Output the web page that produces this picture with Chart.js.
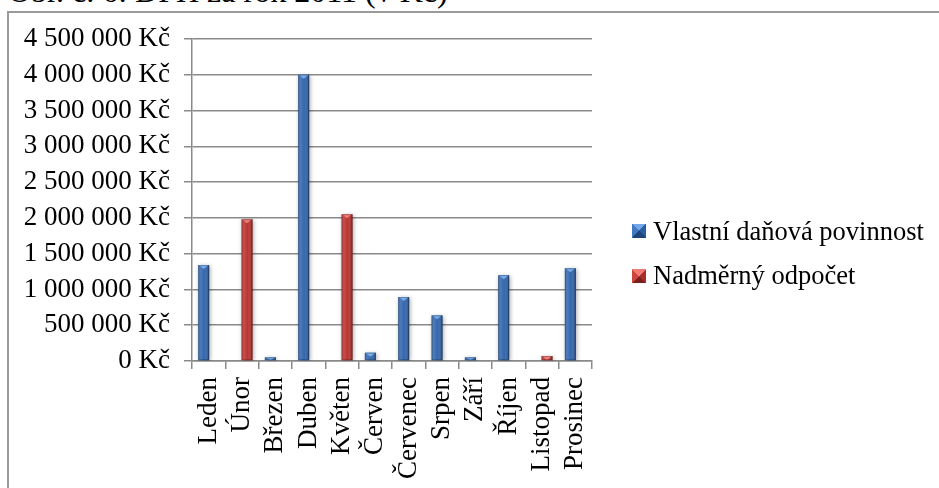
<!DOCTYPE html>
<html lang="cs">
<head>
<meta charset="utf-8">
<title>DPH za rok 2011</title>
<script src="https://cdn.jsdelivr.net/npm/chart.js@4.4.1/dist/chart.umd.min.js"></script>
<style>
  html, body { margin: 0; padding: 0; background: #fff; overflow: hidden; }
  #wrap { position: relative; width: 939px; height: 488px; overflow: hidden;
          font-family: "Liberation Serif", "Times New Roman", serif; color: #000; }
  #title { position: absolute; left: 8px; top: -25px; font-size: 32px; line-height: 32px; white-space: nowrap; }
  #frame { position: absolute; left: 7px; top: 11px; width: 1200px; height: 1000px;
           border: 2px solid #9a9a9a; box-sizing: border-box; }
  #chart { position: absolute; left: 0; top: 0; }
  .lg-box { position: absolute; width: 14px; height: 14px; }
  .lg-text { position: absolute; font-size: 26.5px; line-height: 26px; white-space: nowrap; }
</style>
</head>
<body>
<div id="wrap">
  <div id="title">Obr. č. 6: DPH za rok 2011 (v Kč)</div>
  <div id="frame"></div>
  <canvas id="chart" width="939" height="488"></canvas>
  <div id="legend"></div>
</div>
<script>
// Měsíce roku 2011
const months = ['Leden', 'Únor', 'Březen', 'Duben', 'Květen', 'Červen',
                'Červenec', 'Srpen', 'Září', 'Říjen', 'Listopad', 'Prosinec'];

// Vlastní daňová povinnost (Kč)
const vlastniPovinnost = [1340000, null, 52000, 4000000, null, 116000,
                          894000, 638000, 52000, 1200000, null, 1295000];

// Nadměrný odpočet (Kč)
const nadmernyOdpocet = [null, 1980000, null, null, 2050000, null,
                         null, null, null, null, 70000, null];

// Hodnoty na svislé ose
const yTickValues = [0, 500000, 1000000, 1500000, 2000000, 2500000,
                     3000000, 3500000, 4000000, 4500000];

const seriesNames = ['Vlastní daňová povinnost', 'Nadměrný odpočet'];

// barvy: základ, světlá horní plocha, plochy značky v legendě
const palette = [
  { base: '#3467ad', light: '#78acec',
    faces: ['#72a7ea', '#2b5d9f', '#1e4479', '#4179c2'] },
  { base: '#bb3531', light: '#f07f79',
    faces: ['#f07b73', '#a3302b', '#7b1f1c', '#cc443d'] }
];

function formatKc(v) {
  return String(v).replace(/\B(?=(\d{3})+(?!\d))/g, ' ') + ' Kč';
}

// stín a plastický vzhled sloupců
const bevelBars = {
  id: 'bevelBars',
  beforeDatasetsDraw(chart) {
    const ctx = chart.ctx;
    ctx.save();
    ctx.shadowColor = 'rgba(0,0,0,0.35)';
    ctx.shadowBlur = 4;
    ctx.shadowOffsetX = 1;
    ctx.shadowOffsetY = 1;
  },
  afterDatasetsDraw(chart) {
    const ctx = chart.ctx;
    ctx.restore();
    chart.data.datasets.forEach((ds, di) => {
      const meta = chart.getDatasetMeta(di);
      const pal = palette[di];
      meta.data.forEach((bar, i) => {
        if (ds.data[i] == null) return;
        const { x, y, base, width } = bar.getProps(['x', 'y', 'base', 'width'], true);
        const left = x - width / 2;
        const h = base - y;
        if (h <= 0) return;
        ctx.save();
        const g = ctx.createLinearGradient(left, 0, left + width, 0);
        g.addColorStop(0, 'rgba(255,255,255,0.10)');
        g.addColorStop(0.25, 'rgba(255,255,255,0.12)');
        g.addColorStop(0.55, 'rgba(255,255,255,0.0)');
        g.addColorStop(1, 'rgba(0,0,0,0.32)');
        ctx.fillStyle = g;
        ctx.fillRect(left, y, width, h);
        // horní zkosení
        const th = Math.min(4, h);
        ctx.fillStyle = pal.light;
        ctx.beginPath();
        ctx.moveTo(left + 0.5, y);
        ctx.lineTo(left + width - 0.5, y);
        ctx.lineTo(x, y + th);
        ctx.closePath();
        ctx.fill();
        ctx.strokeStyle = 'rgba(0,0,0,0.25)';
        ctx.lineWidth = 1;
        ctx.strokeRect(left + 0.5, y + 0.5, width - 1, h - 1);
        ctx.restore();
      });
    });
  }
};

Chart.defaults.font.family = '"Liberation Serif", "Times New Roman", serif';
Chart.defaults.font.size = 27;
Chart.defaults.color = '#000';

const gridColor = '#8a8a8a';

new Chart(document.getElementById('chart'), {
  type: 'bar',
  data: {
    labels: months,
    datasets: [
      { label: seriesNames[0], data: vlastniPovinnost, backgroundColor: palette[0].base, borderWidth: 0 },
      { label: seriesNames[1], data: nadmernyOdpocet, backgroundColor: palette[1].base, borderWidth: 0 }
    ]
  },
  options: {
    responsive: false,
    animation: false,
    devicePixelRatio: 1,
    categoryPercentage: 0.6,
    barPercentage: 1.1,
    layout: { padding: { left: 10, top: 39, right: 347, bottom: 0 } },
    plugins: {
      legend: { display: false },
      tooltip: { enabled: false }
    },
    scales: {
      x: {
        offset: true,
        grid: { offset: true, drawOnChartArea: false, color: gridColor, lineWidth: 1.5, tickLength: 8 },
        border: { color: gridColor, width: 1.5 },
        ticks: { autoSkip: false, minRotation: 90, maxRotation: 90, padding: 8 },
        afterFit(scale) { scale.height = 127; }
      },
      y: {
        min: 0,
        max: 4500000,
        grid: { color: gridColor, lineWidth: 1.5, tickLength: 8 },
        border: { color: gridColor, width: 1.5 },
        ticks: { padding: 14, callback: (v) => formatKc(v) },
        afterBuildTicks(scale) { scale.ticks = yTickValues.map(v => ({ value: v })); },
        afterFit(scale) { scale.width = 182; }
      }
    }
  },
  plugins: [bevelBars]
});

// legenda
const legend = document.getElementById('legend');
seriesNames.forEach((name, i) => {
  const f = palette[i].faces;
  const box = document.createElement('div');
  box.className = 'lg-box';
  box.style.left = '632px';
  box.style.top = (224 + i * 45) + 'px';
  box.style.background = `conic-gradient(from -45deg, ${f[0]} 0deg 90deg, ${f[1]} 90deg 180deg, ${f[2]} 180deg 270deg, ${f[3]} 270deg 360deg)`;
  const txt = document.createElement('div');
  txt.className = 'lg-text';
  txt.style.left = '653px';
  txt.style.top = (217.5 + i * 44) + 'px';
  txt.textContent = name;
  legend.appendChild(box);
  legend.appendChild(txt);
});
</script>
</body>
</html>
